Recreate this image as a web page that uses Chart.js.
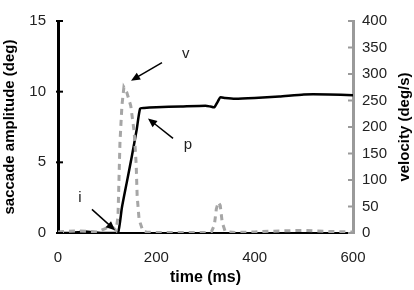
<!DOCTYPE html>
<html>
<head>
<meta charset="utf-8">
<script src="https://cdn.jsdelivr.net/npm/chart.js@4.4.0/dist/chart.umd.min.js"></script>
<style>
  html, body { margin: 0; padding: 0; background: #fff; }
  #wrap { width: 414px; height: 290px; }
</style>
</head>
<body>
<div id="wrap"><canvas id="grafico" width="414" height="290"></canvas></div>
<script>
// posicao (deg) - linha preta
var tempoPos = [0, 20, 40, 55, 70, 90, 110, 122, 130, 140, 150, 160, 167, 175, 200, 250, 300, 310, 318, 325, 330, 340, 360, 400, 450, 500, 550, 600];
var amplitude = [0, 0, 0.05, 0.1, 0.05, 0, 0, 0, 1.8, 3.6, 5.4, 7.3, 8.8, 8.85, 8.9, 8.95, 9.0, 8.95, 8.9, 9.3, 9.6, 9.55, 9.5, 9.55, 9.65, 9.8, 9.8, 9.75];

// velocidade (deg/s) - linha tracejada cinza
var tempoVel = [0, 20, 40, 60, 80, 95, 105, 112, 118, 122, 124, 126, 130, 134, 140, 148, 155, 159, 161, 165, 173, 180, 200, 250, 300, 312, 318, 322, 326, 330, 334, 340, 360, 400, 450, 500, 550, 600];
var velocidade = [2, 3, 4, 3, 2, 8, 12, 10, 5, 30, 100, 170, 240, 275, 265, 240, 190, 130, 70, 25, 3, 2, 1, 1, 1, 2, 15, 45, 58, 52, 20, 3, 1, 2, 4, 5, 3, 2];

var ticksX = [0, 200, 400, 600];
var ticksEsq = [0, 5, 10, 15];
var ticksDir = [0, 50, 100, 150, 200, 250, 300, 350, 400];

var tituloX = 'time (ms)';
var tituloEsq = 'saccade amplitude (deg)';
var tituloDir = 'velocity (deg/s)';

// anotacoes (em unidades de tempo / deg)
var rotulos = ['v', 'p', 'i'];
var rotuloPos = [[260, 12.66], [264, 6.23], [44.7, 2.48]];
var setaInicio = [[211.5, 12.06], [234, 6.7], [69, 1.67]];
var setaFim = [[148.5, 10.78], [183, 8.1], [116, 0.2]];

var pontosPos = [];
for (var i = 0; i < tempoPos.length; i++) {
    pontosPos.push({ x: tempoPos[i], y: amplitude[i] });
}
var pontosVel = [];
for (var i = 0; i < tempoVel.length; i++) {
    pontosVel.push({ x: tempoVel[i], y: velocidade[i] });
}

var fonte = 'Liberation Sans, Arial, sans-serif';

var pluginExtras = {
    id: 'extras',
    afterDraw: function (chart) {
        var ctx = chart.ctx;
        var sx = chart.scales.x;
        var sy = chart.scales.y;
        var sy2 = chart.scales.y2;
        var meioY = (sy.top + sy.bottom) / 2;
        ctx.save();
        // marcas dos eixos
        ctx.lineWidth = 2;
        ctx.strokeStyle = '#000';
        ticksEsq.forEach(function (v) {
            var py = sy.getPixelForValue(v);
            ctx.beginPath();
            ctx.moveTo(sx.left - 2, py);
            ctx.lineTo(sx.left + 5, py);
            ctx.stroke();
        });
        ctx.strokeStyle = '#9a9a9a';
        ticksDir.forEach(function (v) {
            var py = sy2.getPixelForValue(v);
            ctx.beginPath();
            ctx.moveTo(sx.right - 5, py);
            ctx.lineTo(sx.right, py);
            ctx.stroke();
        });
        // titulos dos eixos
        ctx.fillStyle = '#000';
        ctx.textAlign = 'center';
        ctx.textBaseline = 'middle';
        ctx.font = 'bold 16px ' + fonte;
        ctx.fillText(tituloX, (sx.left + sx.right) / 2, 278);
        ctx.font = 'bold 15px ' + fonte;
        ctx.save();
        ctx.translate(10, meioY);
        ctx.rotate(-Math.PI / 2);
        ctx.fillText(tituloEsq, 0, 0);
        ctx.restore();
        ctx.save();
        ctx.translate(405, meioY);
        ctx.rotate(-Math.PI / 2);
        ctx.fillText(tituloDir, 0, 0);
        ctx.restore();
        // rotulos e setas
        ctx.fillStyle = '#222';
        ctx.font = '15px ' + fonte;
        for (var k = 0; k < rotulos.length; k++) {
            ctx.fillText(rotulos[k], sx.getPixelForValue(rotuloPos[k][0]), sy.getPixelForValue(rotuloPos[k][1]));
            var x1 = sx.getPixelForValue(setaInicio[k][0]), y1 = sy.getPixelForValue(setaInicio[k][1]);
            var x2 = sx.getPixelForValue(setaFim[k][0]), y2 = sy.getPixelForValue(setaFim[k][1]);
            var ang = Math.atan2(y2 - y1, x2 - x1);
            ctx.strokeStyle = '#000';
            ctx.lineWidth = 1.5;
            ctx.beginPath();
            ctx.moveTo(x1, y1);
            ctx.lineTo(x2 - 6 * Math.cos(ang), y2 - 6 * Math.sin(ang));
            ctx.stroke();
            ctx.fillStyle = '#000';
            ctx.beginPath();
            ctx.moveTo(x2, y2);
            ctx.lineTo(x2 - 9 * Math.cos(ang) + 4 * Math.sin(ang), y2 - 9 * Math.sin(ang) - 4 * Math.cos(ang));
            ctx.lineTo(x2 - 9 * Math.cos(ang) - 4 * Math.sin(ang), y2 - 9 * Math.sin(ang) + 4 * Math.cos(ang));
            ctx.closePath();
            ctx.fill();
            ctx.fillStyle = '#222';
        }
        ctx.restore();
    }
};

new Chart(document.getElementById('grafico'), {
    type: 'line',
    data: {
        datasets: [{
            label: 'velocity',
            data: pontosVel,
            yAxisID: 'y2',
            borderColor: '#a6a6a6',
            borderWidth: 3,
            borderDash: [6, 5],
            pointRadius: 0,
            tension: 0
        }, {
            label: 'position',
            data: pontosPos,
            yAxisID: 'y',
            borderColor: '#000',
            borderWidth: 2.5,
            pointRadius: 0,
            tension: 0.2
        }]
    },
    options: {
        responsive: false,
        animation: false,
        devicePixelRatio: 1,
        layout: { padding: { top: 9, left: 0, right: 0, bottom: 0 } },
        plugins: { legend: { display: false }, tooltip: { enabled: false } },
        scales: {
            x: {
                type: 'linear',
                min: 0, max: 600,
                afterBuildTicks: function (s) { s.ticks = ticksX.map(function (v) { return { value: v }; }); },
                afterFit: function (s) { s.height = 57; },
                grid: { display: false, drawTicks: false },
                border: { display: true, color: '#000', width: 2 },
                ticks: { color: '#222', font: { family: fonte, size: 15 }, padding: 16, maxRotation: 0 }
            },
            y: {
                position: 'left',
                min: 0, max: 15,
                afterBuildTicks: function (s) { s.ticks = ticksEsq.map(function (v) { return { value: v }; }); },
                afterFit: function (s) { s.width = 58; },
                grid: { display: false, drawTicks: false },
                border: { display: true, color: '#000', width: 3 },
                ticks: { color: '#222', font: { family: fonte, size: 15 }, padding: 12 }
            },
            y2: {
                position: 'right',
                min: 0, max: 400,
                afterBuildTicks: function (s) { s.ticks = ticksDir.map(function (v) { return { value: v }; }); },
                afterFit: function (s) { s.width = 61; },
                grid: { display: false, drawTicks: false },
                border: { display: true, color: '#9a9a9a', width: 3 },
                ticks: { color: '#222', font: { family: fonte, size: 15 }, padding: 9 }
            }
        }
    },
    plugins: [pluginExtras]
});
</script>
</body>
</html>
